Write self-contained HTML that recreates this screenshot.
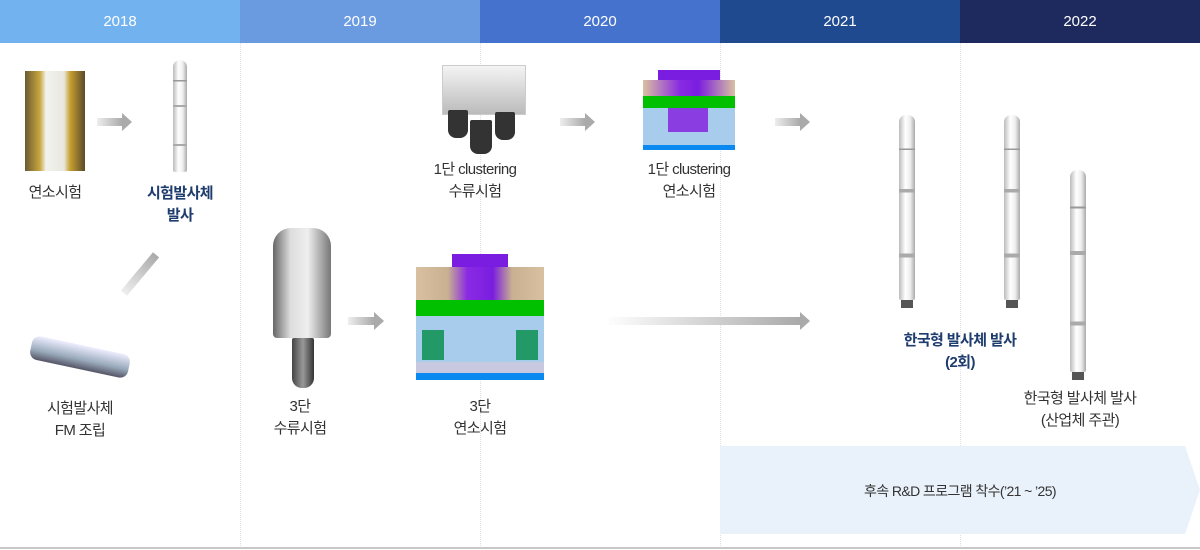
<!DOCTYPE html>
<html><head><meta charset="utf-8"><style>
*{margin:0;padding:0;box-sizing:border-box}
body{width:1200px;height:550px;background:#fff;position:relative;overflow:hidden;font-family:"Liberation Sans","Noto Sans CJK KR",sans-serif}
.a{position:absolute}
.h{position:absolute;top:0;height:43px;width:240px;color:#fff;font-size:15px;text-align:center;line-height:43px}
.v{position:absolute;top:43px;bottom:2px;width:0;border-left:1px dotted #e0e0e0}
.t{position:absolute;font-size:15px;color:#333;text-align:center;line-height:22px;letter-spacing:-0.6px}
.b{color:#1e3d6e;font-weight:bold}
.ar{position:absolute;height:8px;background:linear-gradient(90deg,#eee,#aaa)}
.ar:after{content:"";position:absolute;right:-10px;top:-5px;border-left:10px solid #aaa;border-top:9px solid transparent;border-bottom:9px solid transparent}
.rk{position:absolute;background:linear-gradient(180deg,transparent 0,transparent 18%,#999 18%,#999 19%,transparent 19%,transparent 40%,#aaa 40%,#aaa 42%,transparent 42%,transparent 75%,#aaa 75%,#aaa 77%,transparent 77%),linear-gradient(90deg,#bbb,#fff 40%,#eee 70%,#aaa);border-radius:7px 7px 2px 2px}
</style></head><body>
<div class="h" style="left:0;background:#72b2ee">2018</div>
<div class="h" style="left:240px;background:#6a9ae0">2019</div>
<div class="h" style="left:480px;background:#4472cc">2020</div>
<div class="h" style="left:720px;background:#1f4a8f">2021</div>
<div class="h" style="left:960px;background:#1e2a5e">2022</div>
<div class="v" style="left:240px"></div><div class="v" style="left:480px"></div><div class="v" style="left:720px"></div><div class="v" style="left:960px"></div>
<div class="a" style="left:0;top:547px;width:1200px;height:2px;background:#c8c8c8"></div>

<!-- 2018 -->
<div class="a" style="left:25px;top:71px;width:60px;height:100px;background:linear-gradient(90deg,#6b5a30,#c9a840 25%,#f2f2ee 35%,#e8e8e0 65%,#c9a030 75%,#5a4a2a)"></div>
<div class="t" style="left:0;top:182px;width:110px">연소시험</div>
<div class="ar" style="left:97px;top:118px;width:25px"></div>
<div class="rk" style="left:173px;top:60px;width:14px;height:112px"></div>
<div class="t b" style="left:130px;top:183px;width:100px">시험발사체<br>발사</div>
<div class="a" style="left:115px;top:270px;width:50px;height:8px;background:linear-gradient(90deg,#eee,#aaa);transform:rotate(-50deg)"></div>
<div class="a" style="left:30px;top:345px;width:100px;height:24px;background:linear-gradient(180deg,#eef,#9ab 60%,#556);border-radius:8px;transform:rotate(12deg)"></div>
<div class="t" style="left:20px;top:398px;width:120px">시험발사체<br>FM 조립</div>

<!-- 2019 -->
<div class="a" style="left:273px;top:228px;width:58px;height:110px;background:linear-gradient(90deg,#666,#ddd 30%,#eee 60%,#777);border-radius:18px 18px 4px 4px"></div>
<div class="a" style="left:292px;top:338px;width:22px;height:50px;background:linear-gradient(90deg,#444,#999 50%,#333);border-radius:2px 2px 10px 10px"></div>
<div class="t" style="left:250px;top:396px;width:100px">3단<br>수류시험</div>
<div class="ar" style="left:348px;top:317px;width:26px"></div>
<div class="a" style="left:452px;top:254px;width:56px;height:13px;background:#7a1de0"></div>
<div class="a" style="left:416px;top:267px;width:128px;height:33px;background:linear-gradient(90deg,#d9c0a0,#c8b090 25%,#8a2be2 40%,#7a1de0 60%,#c8b090 75%,#d9c0a0)"></div>
<div class="a" style="left:416px;top:300px;width:128px;height:16px;background:#00c000"></div>
<div class="a" style="left:416px;top:316px;width:128px;height:46px;background:#a8ccec"></div>
<div class="a" style="left:422px;top:330px;width:22px;height:30px;background:#229966"></div>
<div class="a" style="left:516px;top:330px;width:22px;height:30px;background:#229966"></div>
<div class="a" style="left:416px;top:362px;width:128px;height:11px;background:#c8c8e0"></div>
<div class="a" style="left:416px;top:373px;width:128px;height:7px;background:#0a8af0"></div>
<div class="t" style="left:430px;top:396px;width:100px">3단<br>연소시험</div>
<div class="a" style="left:605px;top:317px;width:195px;height:8px;background:linear-gradient(90deg,#fff,#aaa)"></div>
<div class="a" style="left:800px;top:312px;border-left:10px solid #aaa;border-top:9px solid transparent;border-bottom:9px solid transparent"></div>

<!-- 2020 -->
<div class="a" style="left:442px;top:65px;width:84px;height:50px;border:1px solid #ccc;background:linear-gradient(180deg,#f4f4f4,#bbb)"></div>
<div class="a" style="left:448px;top:110px;width:20px;height:28px;background:#333;border-radius:2px 2px 8px 8px"></div>
<div class="a" style="left:470px;top:120px;width:22px;height:34px;background:#333;border-radius:2px 2px 8px 8px"></div>
<div class="a" style="left:495px;top:112px;width:20px;height:28px;background:#333;border-radius:2px 2px 8px 8px"></div>
<div class="t" style="left:420px;top:159px;width:110px">1단 clustering<br>수류시험</div>
<div class="ar" style="left:560px;top:118px;width:25px"></div>
<div class="a" style="left:658px;top:70px;width:62px;height:10px;background:#7a1de0"></div>
<div class="a" style="left:643px;top:80px;width:92px;height:16px;background:linear-gradient(90deg,#d9c0a0,#8a2be2 40%,#7a1de0 60%,#d9c0a0)"></div>
<div class="a" style="left:643px;top:96px;width:92px;height:12px;background:#00c000"></div>
<div class="a" style="left:643px;top:108px;width:92px;height:37px;background:#a8ccec"></div>
<div class="a" style="left:668px;top:108px;width:40px;height:24px;background:#8a3de0"></div>
<div class="a" style="left:643px;top:145px;width:92px;height:5px;background:#0a8af0"></div>
<div class="t" style="left:634px;top:159px;width:110px">1단 clustering<br>연소시험</div>
<div class="ar" style="left:775px;top:118px;width:25px"></div>

<!-- 2021-22 -->
<div class="rk" style="left:899px;top:115px;width:16px;height:185px"></div>
<div class="a" style="left:901px;top:300px;width:12px;height:8px;background:#555"></div>
<div class="rk" style="left:1004px;top:115px;width:16px;height:185px"></div>
<div class="a" style="left:1006px;top:300px;width:12px;height:8px;background:#555"></div>
<div class="rk" style="left:1070px;top:170px;width:16px;height:202px"></div>
<div class="a" style="left:1072px;top:372px;width:12px;height:8px;background:#555"></div>
<div class="t b" style="left:880px;top:330px;width:160px">한국형 발사체 발사<br>(2회)</div>
<div class="t" style="left:1000px;top:388px;width:160px">한국형 발사체 발사<br>(산업체 주관)</div>
<svg class="a" style="left:720px;top:446px" width="480" height="88"><polygon points="0,0 465,0 480,44 465,88 0,88" fill="#e9f2fb"/></svg>
<div class="t" style="left:760px;top:480px;width:400px;font-size:14px">후속 R&amp;D 프로그램 착수(’21 ~ ’25)</div>
</body></html>
